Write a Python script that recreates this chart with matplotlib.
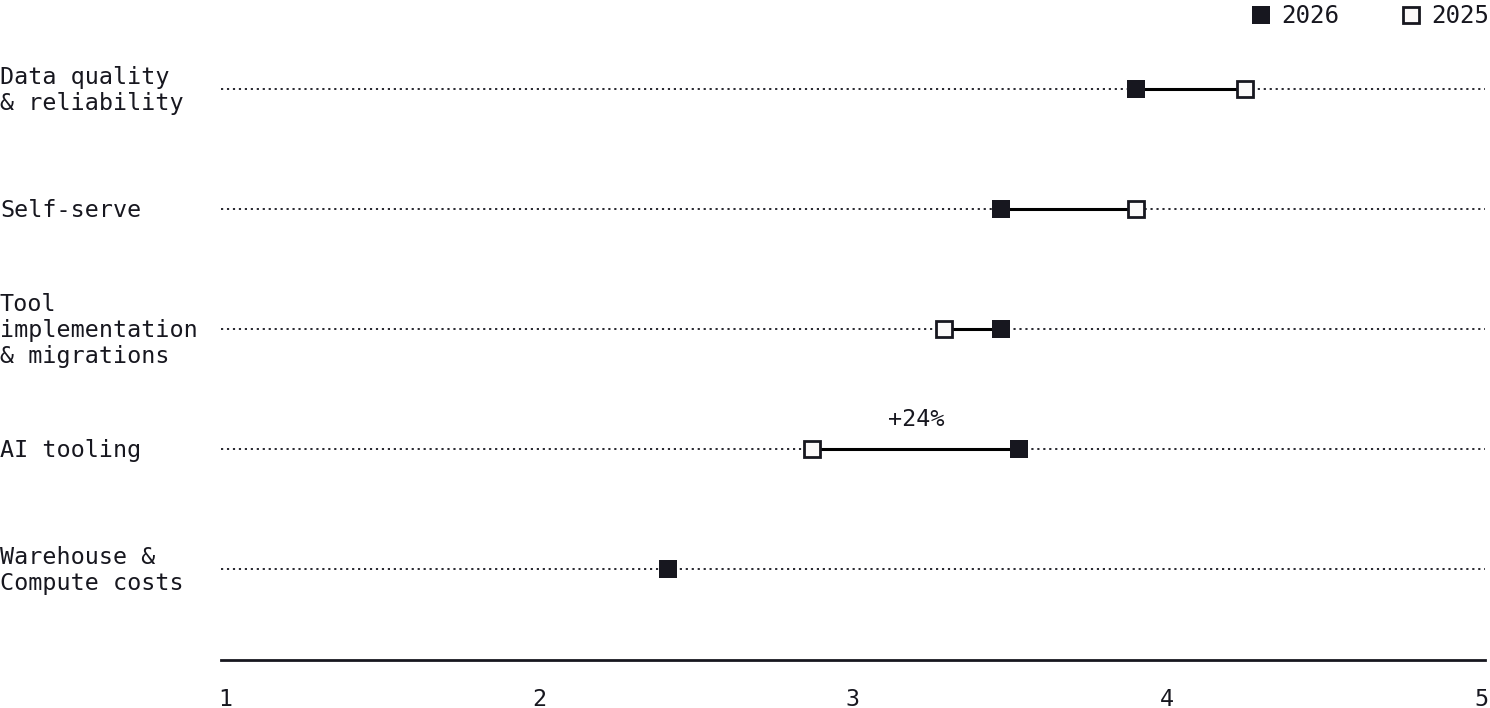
import numpy as np
import matplotlib
matplotlib.use("Agg")
import matplotlib.pyplot as plt
from matplotlib.lines import Line2D
from matplotlib.transforms import blended_transform_factory

categories = ["Data quality\n& reliability", "Self-serve",
              "Tool\nimplementation\n& migrations", "AI tooling",
              "Warehouse &\nCompute costs"]
values_2026 = [3.90, 3.47, 3.47, 3.53, 2.41]
values_2025 = [4.25, 3.90, 3.29, 2.87, np.nan]
annotations = {"AI tooling": "+24%"}
x_ticks = [1, 2, 3, 4, 5]

DARK = "#17171f"
OPEN_FILL = "#fbf9f9"
FONT = "DejaVu Sans Mono"
FS = 16.8
FS_LEG = 17.4

plt.rcParams["font.family"] = [FONT, "DejaVu Sans"]

W, H = 1490, 708
fig = plt.figure(figsize=(W / 100, H / 100), dpi=100)
fig.patch.set_facecolor("white")

left, right, top, bottom = 221, 1485, 29, 660
ax = fig.add_axes([left / W, 1 - bottom / H, (right - left) / W, (bottom - top) / H])
ax.set_facecolor("white")

n = len(categories)
ys = np.arange(n)
ax.set_xlim(1 - 4 / 314, 5 + 4 / 314)
ax.set_ylim(n - 1 + 91 / 120, -0.5)

for y in ys:
    ax.plot([1 - 4 / 314, 5 + 4 / 314], [y, y], linestyle=(0, (1.2, 2.1)),
            color=DARK, lw=1.3, zorder=1, dash_capstyle="butt")

for y, v26, v25 in zip(ys, values_2026, values_2025):
    if not np.isnan(v25):
        ax.plot([v25, v26], [y, y], color="black", lw=2.2, zorder=2,
                solid_capstyle="butt")
        ax.plot([v25], [y], marker="s", ms=12.0, mfc=OPEN_FILL, mec=DARK,
                mew=2.0, zorder=3, linestyle="none")
    ax.plot([v26], [y], marker="s", ms=13, mfc=DARK, mec=DARK, mew=0,
            zorder=4, linestyle="none")

for y, cat, v26, v25 in zip(ys, categories, values_2026, values_2025):
    if cat in annotations:
        ax.annotate(annotations[cat], xy=((v26 + v25) / 2, y), xytext=(0, 21),
                    textcoords="offset points", ha="center", va="center",
                    fontsize=FS, color=DARK)

trans = blended_transform_factory(fig.transFigure, ax.transData)
for y, cat in zip(ys, categories):
    ax.text(0.0, y + 0.01, cat, transform=trans, ha="left", va="center",
            fontsize=FS, color=DARK, linespacing=1.17)

for s in ["top", "right", "left"]:
    ax.spines[s].set_visible(False)
ax.spines["bottom"].set_color(DARK)
ax.spines["bottom"].set_linewidth(2)
ax.set_yticks([])
ax.set_xticks(x_ticks)
ax.set_xticklabels([str(t) for t in x_ticks])
ax.tick_params(axis="x", length=0, pad=20, labelsize=FS, labelcolor=DARK)

handles = [
    Line2D([], [], marker="s", linestyle="none", ms=13, mfc=DARK, mec=DARK, mew=0),
    Line2D([], [], marker="s", linestyle="none", ms=12.0, mfc=OPEN_FILL, mec=DARK, mew=2.0),
]
fig.legend(handles, ["2026", "2025"], ncol=2, loc="upper right",
           bbox_to_anchor=(1.014, 1.025), frameon=False, fontsize=FS_LEG,
           handlelength=0.8, handletextpad=0.45, columnspacing=2.55,
           labelcolor=DARK)

fig.savefig("out.png", dpi=100, facecolor="white")
